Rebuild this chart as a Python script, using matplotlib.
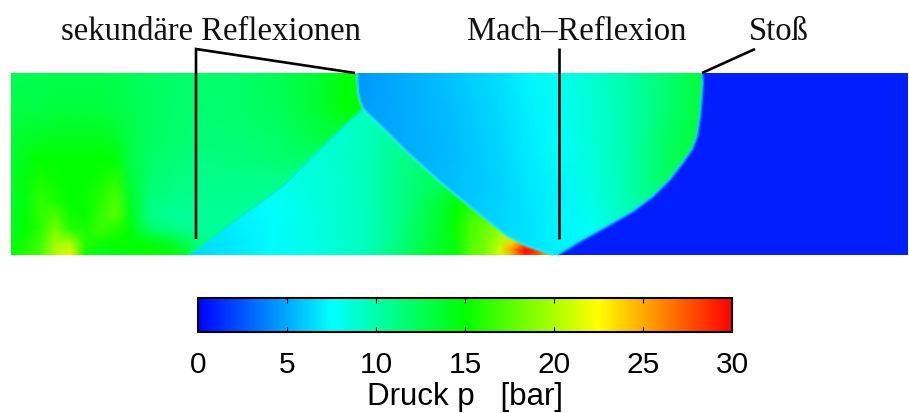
import matplotlib
matplotlib.use('Agg')
import matplotlib.pyplot as plt
from matplotlib.colors import LinearSegmentedColormap, Normalize
from matplotlib.cm import ScalarMappable
from matplotlib.patches import Polygon, Rectangle

W, H = 909, 414
SANS = 'Liberation Sans'
SERIF = 'Liberation Serif'

# colour scale: blue, cyan, green, yellow, red over 0..30 bar
cmap = LinearSegmentedColormap.from_list('druck', ['#0000ff', '#00ffff', '#00ff00', '#ffff00', '#ff0000'], N=512)
norm = Normalize(0, 30)
cbar_ticks = [0, 5, 10, 15, 20, 25, 30]

main_shock = [(702, 74), (702.5, 84), (702, 93), (701, 106), (700, 117), (697, 137), (692, 150), (683, 163),
              (670, 180), (653, 197), (633, 212), (607, 227), (580, 242), (557, 256)]
mach_stem = [(357, 74), (358, 93), (360, 102), (363, 110)]
reflected_right = [(363, 110), (385, 131), (407, 153), (440, 183), (473, 210), (507, 237), (527, 247), (553, 256)]
reflected_left = [(363, 110), (340, 131), (317, 153), (283, 187), (233, 223), (190, 256)]

# left region: pressure in bar
left_x = [11, 25, 40, 55, 70, 85, 100, 115, 130, 150, 175, 200, 240, 280, 320, 345, 365]
left_y = [74, 110, 140, 160, 180, 200, 215, 230, 245, 256]
left_p = [
    [12.6, 12.6, 12.7, 12.8, 12.8, 12.8, 12.8, 12.7, 12.5, 12.2, 12.0, 11.8, 12.0, 12.6, 13.6, 14.8, 15.0],
    [13.0, 13.0, 13.0, 13.2, 13.3, 13.3, 13.2, 13.0, 12.7, 12.2, 11.9, 11.7, 11.9, 12.4, 13.6, 14.8, 15.0],
    [13.4, 13.8, 14.0, 14.2, 14.2, 14.2, 14.2, 14.0, 13.0, 12.2, 11.8, 11.5, 11.6, 12.0, 13.0, 13.0, 13.0],
    [13.6, 14.4, 15.0, 15.0, 15.0, 15.0, 15.0, 14.8, 13.0, 12.0, 11.6, 11.3, 11.4, 11.8, 12.0, 12.0, 12.0],
    [13.8, 14.6, 15.6, 15.2, 15.0, 15.0, 15.4, 16.0, 13.4, 11.8, 11.3, 11.0, 11.0, 11.0, 11.0, 11.0, 11.0],
    [13.8, 14.6, 16.4, 15.6, 15.0, 15.2, 16.0, 17.2, 14.0, 11.4, 11.0, 10.8, 10.8, 10.8, 10.8, 10.8, 10.8],
    [13.9, 14.8, 16.4, 17.0, 15.4, 15.0, 16.4, 17.6, 14.4, 11.0, 10.6, 10.6, 10.6, 10.6, 10.6, 10.6, 10.6],
    [14.0, 15.0, 16.0, 18.4, 16.0, 15.6, 16.6, 16.0, 14.8, 12.0, 11.0, 10.6, 10.6, 10.6, 10.6, 10.6, 10.6],
    [14.6, 15.6, 16.8, 19.6, 20.0, 16.0, 15.4, 15.0, 15.0, 15.0, 13.8, 11.5, 10.0, 10.0, 10.0, 10.0, 10.0],
    [15.0, 16.0, 17.0, 20.0, 23.0, 15.5, 14.0, 14.4, 14.6, 15.0, 14.6, 12.0, 10.0, 10.0, 10.0, 10.0, 10.0],
]

# wedge below the triple point
mid_x = [190, 230, 270, 310, 340, 365, 390, 410, 425, 440, 455, 470, 485, 500, 512, 525, 540, 555]
mid_y = [110, 130, 160, 190, 210, 225, 235, 245, 251, 256]
mid_p = [
    [9.0, 9.0, 9.0, 9.0, 9.1, 9.4, 10.0, 10.6, 11.0, 11.5, 12.0, 12.0, 12.0, 12.0, 12.0, 12.0, 12.0, 12.0],
    [8.8, 8.8, 8.8, 8.9, 9.0, 9.4, 10.2, 10.8, 11.2, 11.6, 12.0, 12.0, 12.0, 12.0, 12.0, 12.0, 12.0, 12.0],
    [8.2, 8.2, 8.2, 8.6, 9.0, 9.5, 10.6, 11.2, 11.8, 12.2, 13.0, 13.0, 13.0, 13.0, 13.0, 13.0, 13.0, 13.0],
    [7.6, 7.6, 7.8, 8.4, 8.9, 9.5, 10.7, 11.4, 12.0, 12.8, 13.6, 14.0, 14.0, 14.0, 14.0, 14.0, 14.0, 14.0],
    [7.2, 7.2, 7.6, 8.3, 8.9, 9.4, 10.6, 11.6, 12.6, 13.5, 14.8, 16.0, 16.5, 16.5, 16.5, 16.5, 16.5, 16.5],
    [6.9, 7.0, 7.4, 8.2, 8.9, 9.4, 10.6, 11.8, 12.8, 13.6, 15.2, 17.0, 18.0, 19.0, 19.0, 19.0, 19.0, 19.0],
    [6.7, 6.9, 7.4, 8.2, 8.9, 9.4, 10.6, 11.8, 12.9, 13.7, 15.4, 17.0, 18.2, 19.6, 21.0, 22.0, 22.0, 22.0],
    [6.5, 6.8, 7.4, 8.2, 8.9, 9.4, 10.8, 12.0, 13.0, 13.8, 14.5, 17.2, 18.3, 20.3, 24.0, 27.0, 27.0, 20.0],
    [6.4, 6.8, 7.4, 8.2, 9.0, 9.5, 10.9, 12.2, 13.2, 14.0, 14.8, 17.5, 18.6, 21.0, 25.5, 30.0, 28.0, 21.0],
    [6.4, 6.8, 7.4, 8.2, 9.0, 9.5, 11.0, 12.4, 13.4, 14.2, 15.0, 17.5, 18.6, 21.0, 25.0, 29.0, 27.0, 18.0],
]

# behind the reflected shock, up to the main shock
rear_x = [355, 400, 450, 500, 530, 558, 590, 630, 670, 705]
rear_y = [74, 110, 150, 190, 220, 240, 256]
rear_p = [
    [4.4, 5.0, 5.8, 6.6, 7.3, 8.0, 8.8, 10.2, 11.8, 13.5],
    [4.6, 5.0, 5.6, 6.4, 7.1, 7.8, 8.6, 10.0, 11.9, 13.5],
    [4.8, 5.0, 5.5, 6.3, 7.0, 7.6, 8.6, 10.0, 12.4, 13.5],
    [5.0, 5.2, 5.6, 6.2, 6.8, 7.2, 8.3, 10.0, 12.4, 13.5],
    [5.2, 5.4, 5.8, 6.3, 6.7, 7.3, 7.9, 9.5, 12.0, 13.5],
    [5.4, 5.6, 6.0, 6.4, 6.7, 7.2, 7.6, 9.0, 12.0, 13.5],
    [5.4, 5.6, 6.0, 6.4, 6.7, 7.0, 7.5, 9.0, 12.0, 13.5],
]

ahead_p = 0.9

labels = ['sekundäre Reflexionen', 'Mach–Reflexion', 'Stoß']
label_x = [61, 467, 749]

pointers = [
    ([196, 196, 355], [240, 50, 74]),
    ([558.5, 558.5], [49, 240]),
    ([702, 755], [74, 50]),
]

fig = plt.figure(figsize=(W / 100, H / 100), dpi=100)
ax = fig.add_axes([0, 0, 1, 1])
ax.set_xlim(0, W)
ax.set_ylim(H, 0)
ax.axis('off')

top, bottom, left, right = 74, 256, 11, 908

ax.add_patch(Rectangle((left, top), right - left, bottom - top, color=cmap(norm(ahead_p)), lw=0))

region_left = [(left, top)] + mach_stem + reflected_left[1:] + [(left, bottom)]
region_mid = reflected_left + reflected_right[:0:-1]
region_rear = mach_stem + reflected_right[1:] + main_shock[::-1]

for xs, ys, ps, outline in [(left_x, left_y, left_p, region_left),
                            (mid_x, mid_y, mid_p, region_mid),
                            (rear_x, rear_y, rear_p, region_rear)]:
    mesh = ax.pcolormesh(xs, ys, ps, shading='gouraud', cmap=cmap, norm=norm)
    clip = Polygon(outline, closed=True, transform=ax.transData)
    mesh.set_clip_path(clip)

# the shocks are a few pixels wide in the flow field, soft halo then core
for line, col, lw in [(main_shock, '#20c8ff', 2.0),
                      (mach_stem, '#40e8ff', 1.6),
                      (reflected_right, '#30f4f0', 1.6),
                      (reflected_left, '#00f4c0', 1.6)]:
    xs = [p[0] for p in line]
    ys = [p[1] for p in line]
    ax.plot(xs, ys, color=col, lw=lw * 2, alpha=0.2, solid_capstyle='butt')
    ax.plot(xs, ys, color=col, lw=lw, alpha=0.55, solid_capstyle='butt')

for xs, ys in pointers:
    ax.plot(xs, ys, color='black', lw=1.9, solid_capstyle='butt', solid_joinstyle='miter')

for s, x in zip(labels, label_x):
    ax.text(x, 40, s, family=SERIF, fontsize=23.5, color='#111111', ha='left', va='baseline')

cax = fig.add_axes([198 / W, 1 - 333 / H, (732 - 198) / W, 34 / H])
cb = fig.colorbar(ScalarMappable(norm=norm, cmap=cmap), cax=cax, orientation='horizontal')
cb.set_ticks(cbar_ticks)
cax.tick_params(axis='x', direction='in', top=True, bottom=True, length=3.5, width=0.8, labelsize=21.5, pad=13)
for t in cax.get_xticklabels():
    t.set_family(SANS)
cb.outline.set_linewidth(1.5)
cb.set_label('Druck p   [bar]', family=SANS, fontsize=22.5, labelpad=2)

fig.savefig('out.png', dpi=100)
